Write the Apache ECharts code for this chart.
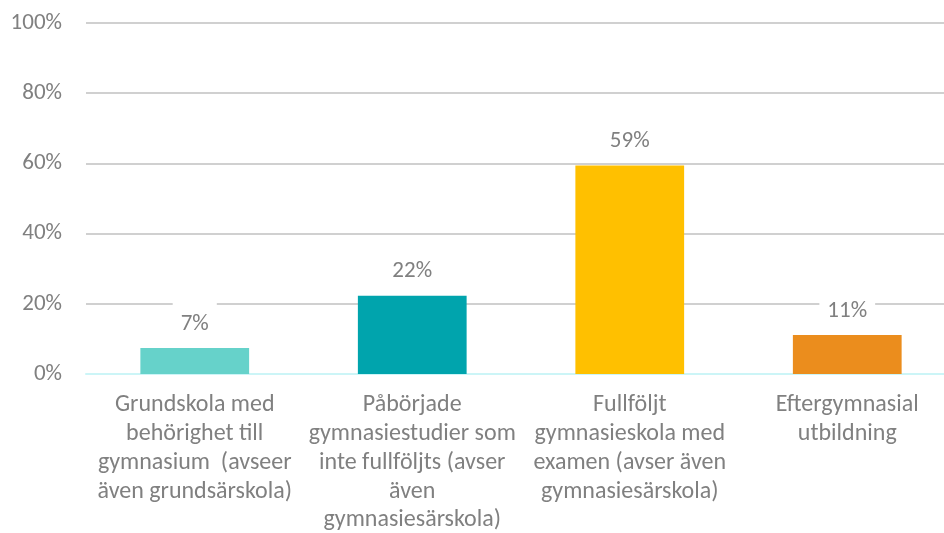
<!DOCTYPE html>
<html>
<head>
<meta charset="utf-8">
<script src="https://cdn.jsdelivr.net/npm/echarts@6/dist/echarts.min.js"></script>
<style>
  html, body { margin: 0; padding: 0; background: #fff; }
  #chart { width: 944px; height: 533px; }
</style>
</head>
<body>
<div id="chart"></div>
<script>
const categories = [
  'Grundskola med\nbehörighet till\ngymnasium  (avseer\näven grundsärskola)',
  'Påbörjade\ngymnasiestudier som\ninte fullföljts (avser\näven\ngymnasiesärskola)',
  'Fullföljt\ngymnasieskola med\nexamen (avser även\ngymnasiesärskola)',
  'Eftergymnasial\nutbildning',
]
const values = [7.4, 22.3, 59.4, 11.1]
const barColors = ['#66D2CA', '#00A4AD', '#FFC000', '#EB8D1D']
const yTicks = [0, 20, 40, 60, 80, 100]

const textColor = '#808080'
const font = 'Carlito, Lato, sans-serif'

const chart = echarts.init(document.getElementById('chart'))

chart.setOption({
  backgroundColor: '#fff',
  animation: false,
  textStyle: { fontFamily: font },
  // plot area runs a little past the right edge in the original
  grid: { left: 86, top: 23, width: 870, height: 351, containLabel: false, outerBoundsMode: 'none' },
  xAxis: {
    type: 'category',
    data: categories,
    axisLine: { lineStyle: { color: '#CCF5F7', width: 2 } },
    axisTick: { show: false },
    axisLabel: {
      interval: 0,
      color: textColor,
      fontSize: 24,
      lineHeight: 28.75,
      margin: 17,
      fontFamily: font,
    },
  },
  yAxis: {
    type: 'value',
    min: yTicks[0],
    max: yTicks[yTicks.length - 1],
    interval: 20,
    axisLine: { show: false },
    axisTick: { show: false },
    axisLabel: {
      color: textColor,
      fontSize: 23,
      margin: 24,
      fontFamily: font,
      formatter: (v) => v + '%',
    },
    splitLine: { lineStyle: { color: '#C0C0C0', width: 1.5 } },
  },
  series: [{
    type: 'bar',
    barWidth: '50%',
    data: values.map((v, i) => ({ value: v, itemStyle: { color: barColors[i] } })),
    label: {
      show: true,
      position: 'top',
      distance: 5,
      color: textColor,
      fontSize: 23,
      lineHeight: 22,
      fontFamily: font,
      backgroundColor: '#fff',
      padding: [10, 8, 8, 8],
      formatter: (p) => Math.round(p.value) + '%',
    },
  }],
})
</script>
</body>
</html>
